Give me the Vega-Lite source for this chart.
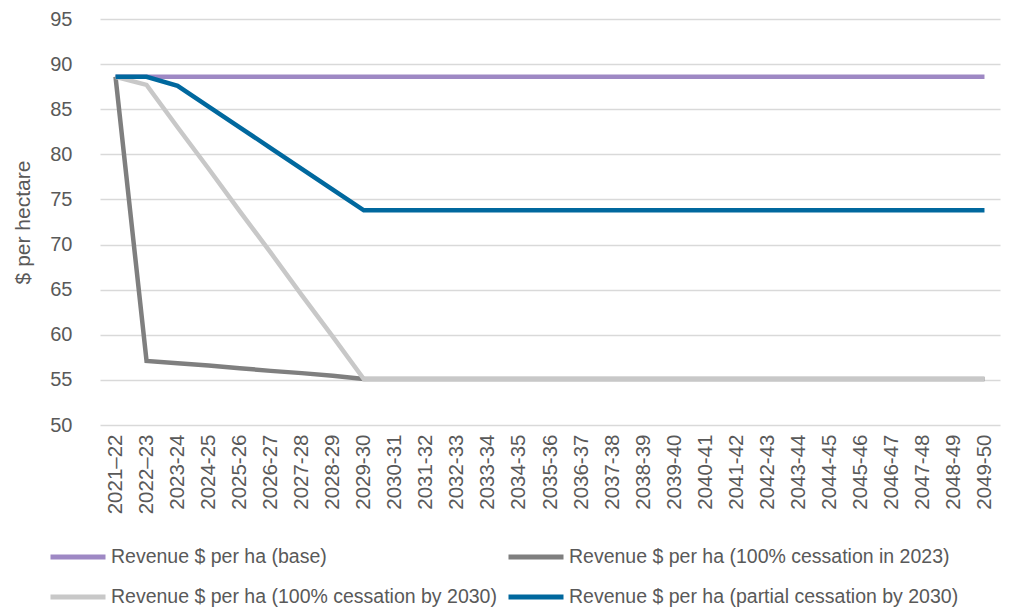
{
  "$schema": "https://vega.github.io/schema/vega-lite/v6.json",
  "width": 900,
  "height": 406,
  "autosize": {"type": "none"},
  "padding": {"left": 100, "top": 19, "right": 10, "bottom": 191},
  "background": "white",
  "config": {
    "view": {"stroke": null},
    "font": "Liberation Sans"
  },
  "data": {
    "values": [
      {"period": "2021–22", "series": "Revenue $ per ha (base)", "value": 88.6},
      {"period": "2022–23", "series": "Revenue $ per ha (base)", "value": 88.6},
      {"period": "2023-24", "series": "Revenue $ per ha (base)", "value": 88.6},
      {"period": "2024-25", "series": "Revenue $ per ha (base)", "value": 88.6},
      {"period": "2025-26", "series": "Revenue $ per ha (base)", "value": 88.6},
      {"period": "2026-27", "series": "Revenue $ per ha (base)", "value": 88.6},
      {"period": "2027-28", "series": "Revenue $ per ha (base)", "value": 88.6},
      {"period": "2028-29", "series": "Revenue $ per ha (base)", "value": 88.6},
      {"period": "2029-30", "series": "Revenue $ per ha (base)", "value": 88.6},
      {"period": "2030-31", "series": "Revenue $ per ha (base)", "value": 88.6},
      {"period": "2031-32", "series": "Revenue $ per ha (base)", "value": 88.6},
      {"period": "2032-33", "series": "Revenue $ per ha (base)", "value": 88.6},
      {"period": "2033-34", "series": "Revenue $ per ha (base)", "value": 88.6},
      {"period": "2034-35", "series": "Revenue $ per ha (base)", "value": 88.6},
      {"period": "2035-36", "series": "Revenue $ per ha (base)", "value": 88.6},
      {"period": "2036-37", "series": "Revenue $ per ha (base)", "value": 88.6},
      {"period": "2037-38", "series": "Revenue $ per ha (base)", "value": 88.6},
      {"period": "2038-39", "series": "Revenue $ per ha (base)", "value": 88.6},
      {"period": "2039-40", "series": "Revenue $ per ha (base)", "value": 88.6},
      {"period": "2040-41", "series": "Revenue $ per ha (base)", "value": 88.6},
      {"period": "2041-42", "series": "Revenue $ per ha (base)", "value": 88.6},
      {"period": "2042-43", "series": "Revenue $ per ha (base)", "value": 88.6},
      {"period": "2043-44", "series": "Revenue $ per ha (base)", "value": 88.6},
      {"period": "2044-45", "series": "Revenue $ per ha (base)", "value": 88.6},
      {"period": "2045-46", "series": "Revenue $ per ha (base)", "value": 88.6},
      {"period": "2046-47", "series": "Revenue $ per ha (base)", "value": 88.6},
      {"period": "2047-48", "series": "Revenue $ per ha (base)", "value": 88.6},
      {"period": "2048-49", "series": "Revenue $ per ha (base)", "value": 88.6},
      {"period": "2049-50", "series": "Revenue $ per ha (base)", "value": 88.6},

      {"period": "2021–22", "series": "Revenue $ per ha (100% cessation in 2023)", "value": 88.6},
      {"period": "2022–23", "series": "Revenue $ per ha (100% cessation in 2023)", "value": 57.1},
      {"period": "2023-24", "series": "Revenue $ per ha (100% cessation in 2023)", "value": 56.85},
      {"period": "2024-25", "series": "Revenue $ per ha (100% cessation in 2023)", "value": 56.6},
      {"period": "2025-26", "series": "Revenue $ per ha (100% cessation in 2023)", "value": 56.3},
      {"period": "2026-27", "series": "Revenue $ per ha (100% cessation in 2023)", "value": 56.0},
      {"period": "2027-28", "series": "Revenue $ per ha (100% cessation in 2023)", "value": 55.75},
      {"period": "2028-29", "series": "Revenue $ per ha (100% cessation in 2023)", "value": 55.45},
      {"period": "2029-30", "series": "Revenue $ per ha (100% cessation in 2023)", "value": 55.1},
      {"period": "2030-31", "series": "Revenue $ per ha (100% cessation in 2023)", "value": 55.1},
      {"period": "2031-32", "series": "Revenue $ per ha (100% cessation in 2023)", "value": 55.1},
      {"period": "2032-33", "series": "Revenue $ per ha (100% cessation in 2023)", "value": 55.1},
      {"period": "2033-34", "series": "Revenue $ per ha (100% cessation in 2023)", "value": 55.1},
      {"period": "2034-35", "series": "Revenue $ per ha (100% cessation in 2023)", "value": 55.1},
      {"period": "2035-36", "series": "Revenue $ per ha (100% cessation in 2023)", "value": 55.1},
      {"period": "2036-37", "series": "Revenue $ per ha (100% cessation in 2023)", "value": 55.1},
      {"period": "2037-38", "series": "Revenue $ per ha (100% cessation in 2023)", "value": 55.1},
      {"period": "2038-39", "series": "Revenue $ per ha (100% cessation in 2023)", "value": 55.1},
      {"period": "2039-40", "series": "Revenue $ per ha (100% cessation in 2023)", "value": 55.1},
      {"period": "2040-41", "series": "Revenue $ per ha (100% cessation in 2023)", "value": 55.1},
      {"period": "2041-42", "series": "Revenue $ per ha (100% cessation in 2023)", "value": 55.1},
      {"period": "2042-43", "series": "Revenue $ per ha (100% cessation in 2023)", "value": 55.1},
      {"period": "2043-44", "series": "Revenue $ per ha (100% cessation in 2023)", "value": 55.1},
      {"period": "2044-45", "series": "Revenue $ per ha (100% cessation in 2023)", "value": 55.1},
      {"period": "2045-46", "series": "Revenue $ per ha (100% cessation in 2023)", "value": 55.1},
      {"period": "2046-47", "series": "Revenue $ per ha (100% cessation in 2023)", "value": 55.1},
      {"period": "2047-48", "series": "Revenue $ per ha (100% cessation in 2023)", "value": 55.1},
      {"period": "2048-49", "series": "Revenue $ per ha (100% cessation in 2023)", "value": 55.1},
      {"period": "2049-50", "series": "Revenue $ per ha (100% cessation in 2023)", "value": 55.1},

      {"period": "2021–22", "series": "Revenue $ per ha (100% cessation by 2030)", "value": 88.6},
      {"period": "2022–23", "series": "Revenue $ per ha (100% cessation by 2030)", "value": 87.7},
      {"period": "2023-24", "series": "Revenue $ per ha (100% cessation by 2030)", "value": 83.0},
      {"period": "2024-25", "series": "Revenue $ per ha (100% cessation by 2030)", "value": 78.4},
      {"period": "2025-26", "series": "Revenue $ per ha (100% cessation by 2030)", "value": 73.7},
      {"period": "2026-27", "series": "Revenue $ per ha (100% cessation by 2030)", "value": 69.1},
      {"period": "2027-28", "series": "Revenue $ per ha (100% cessation by 2030)", "value": 64.4},
      {"period": "2028-29", "series": "Revenue $ per ha (100% cessation by 2030)", "value": 59.8},
      {"period": "2029-30", "series": "Revenue $ per ha (100% cessation by 2030)", "value": 55.1},
      {"period": "2030-31", "series": "Revenue $ per ha (100% cessation by 2030)", "value": 55.1},
      {"period": "2031-32", "series": "Revenue $ per ha (100% cessation by 2030)", "value": 55.1},
      {"period": "2032-33", "series": "Revenue $ per ha (100% cessation by 2030)", "value": 55.1},
      {"period": "2033-34", "series": "Revenue $ per ha (100% cessation by 2030)", "value": 55.1},
      {"period": "2034-35", "series": "Revenue $ per ha (100% cessation by 2030)", "value": 55.1},
      {"period": "2035-36", "series": "Revenue $ per ha (100% cessation by 2030)", "value": 55.1},
      {"period": "2036-37", "series": "Revenue $ per ha (100% cessation by 2030)", "value": 55.1},
      {"period": "2037-38", "series": "Revenue $ per ha (100% cessation by 2030)", "value": 55.1},
      {"period": "2038-39", "series": "Revenue $ per ha (100% cessation by 2030)", "value": 55.1},
      {"period": "2039-40", "series": "Revenue $ per ha (100% cessation by 2030)", "value": 55.1},
      {"period": "2040-41", "series": "Revenue $ per ha (100% cessation by 2030)", "value": 55.1},
      {"period": "2041-42", "series": "Revenue $ per ha (100% cessation by 2030)", "value": 55.1},
      {"period": "2042-43", "series": "Revenue $ per ha (100% cessation by 2030)", "value": 55.1},
      {"period": "2043-44", "series": "Revenue $ per ha (100% cessation by 2030)", "value": 55.1},
      {"period": "2044-45", "series": "Revenue $ per ha (100% cessation by 2030)", "value": 55.1},
      {"period": "2045-46", "series": "Revenue $ per ha (100% cessation by 2030)", "value": 55.1},
      {"period": "2046-47", "series": "Revenue $ per ha (100% cessation by 2030)", "value": 55.1},
      {"period": "2047-48", "series": "Revenue $ per ha (100% cessation by 2030)", "value": 55.1},
      {"period": "2048-49", "series": "Revenue $ per ha (100% cessation by 2030)", "value": 55.1},
      {"period": "2049-50", "series": "Revenue $ per ha (100% cessation by 2030)", "value": 55.1},

      {"period": "2021–22", "series": "Revenue $ per ha (partial cessation by 2030)", "value": 88.6},
      {"period": "2022–23", "series": "Revenue $ per ha (partial cessation by 2030)", "value": 88.6},
      {"period": "2023-24", "series": "Revenue $ per ha (partial cessation by 2030)", "value": 87.6},
      {"period": "2024-25", "series": "Revenue $ per ha (partial cessation by 2030)", "value": 85.3},
      {"period": "2025-26", "series": "Revenue $ per ha (partial cessation by 2030)", "value": 83.0},
      {"period": "2026-27", "series": "Revenue $ per ha (partial cessation by 2030)", "value": 80.7},
      {"period": "2027-28", "series": "Revenue $ per ha (partial cessation by 2030)", "value": 78.4},
      {"period": "2028-29", "series": "Revenue $ per ha (partial cessation by 2030)", "value": 76.1},
      {"period": "2029-30", "series": "Revenue $ per ha (partial cessation by 2030)", "value": 73.8},
      {"period": "2030-31", "series": "Revenue $ per ha (partial cessation by 2030)", "value": 73.8},
      {"period": "2031-32", "series": "Revenue $ per ha (partial cessation by 2030)", "value": 73.8},
      {"period": "2032-33", "series": "Revenue $ per ha (partial cessation by 2030)", "value": 73.8},
      {"period": "2033-34", "series": "Revenue $ per ha (partial cessation by 2030)", "value": 73.8},
      {"period": "2034-35", "series": "Revenue $ per ha (partial cessation by 2030)", "value": 73.8},
      {"period": "2035-36", "series": "Revenue $ per ha (partial cessation by 2030)", "value": 73.8},
      {"period": "2036-37", "series": "Revenue $ per ha (partial cessation by 2030)", "value": 73.8},
      {"period": "2037-38", "series": "Revenue $ per ha (partial cessation by 2030)", "value": 73.8},
      {"period": "2038-39", "series": "Revenue $ per ha (partial cessation by 2030)", "value": 73.8},
      {"period": "2039-40", "series": "Revenue $ per ha (partial cessation by 2030)", "value": 73.8},
      {"period": "2040-41", "series": "Revenue $ per ha (partial cessation by 2030)", "value": 73.8},
      {"period": "2041-42", "series": "Revenue $ per ha (partial cessation by 2030)", "value": 73.8},
      {"period": "2042-43", "series": "Revenue $ per ha (partial cessation by 2030)", "value": 73.8},
      {"period": "2043-44", "series": "Revenue $ per ha (partial cessation by 2030)", "value": 73.8},
      {"period": "2044-45", "series": "Revenue $ per ha (partial cessation by 2030)", "value": 73.8},
      {"period": "2045-46", "series": "Revenue $ per ha (partial cessation by 2030)", "value": 73.8},
      {"period": "2046-47", "series": "Revenue $ per ha (partial cessation by 2030)", "value": 73.8},
      {"period": "2047-48", "series": "Revenue $ per ha (partial cessation by 2030)", "value": 73.8},
      {"period": "2048-49", "series": "Revenue $ per ha (partial cessation by 2030)", "value": 73.8},
      {"period": "2049-50", "series": "Revenue $ per ha (partial cessation by 2030)", "value": 73.8}
    ]
  },
  "mark": {"type": "line", "strokeWidth": 4.5, "strokeJoin": "miter", "strokeCap": "butt"},
  "encoding": {
    "x": {
      "field": "period",
      "type": "ordinal",
      "sort": null,
      "scale": {"type": "point", "padding": 0.5},
      "axis": {
        "title": null,
        "labelAngle": -90,
        "labelAlign": "right",
        "labelBaseline": "middle",
        "labelFontSize": 20.5,
        "labelColor": "#595959",
        "labelPadding": 9,
        "ticks": false,
        "domain": false,
        "grid": false
      }
    },
    "y": {
      "field": "value",
      "type": "quantitative",
      "scale": {"domain": [50, 95], "nice": false, "zero": false},
      "axis": {
        "title": "$ per hectare",
        "titleFontSize": 21,
        "titleFontWeight": "normal",
        "titleColor": "#595959",
        "titlePadding": 16,
        "values": [50, 55, 60, 65, 70, 75, 80, 85, 90, 95],
        "labelFontSize": 20,
        "labelColor": "#595959",
        "labelPadding": 28,
        "ticks": false,
        "domain": false,
        "grid": true,
        "gridColor": "#D9D9D9",
        "gridWidth": 1.5
      }
    },
    "color": {
      "field": "series",
      "type": "nominal",
      "sort": null,
      "scale": {
        "domain": [
          "Revenue $ per ha (base)",
          "Revenue $ per ha (100% cessation in 2023)",
          "Revenue $ per ha (100% cessation by 2030)",
          "Revenue $ per ha (partial cessation by 2030)"
        ],
        "range": ["#9E88C4", "#7F7F7F", "#C8C8C8", "#00689E"]
      },
      "legend": {
        "title": null,
        "orient": "none",
        "legendX": -52,
        "legendY": 508,
        "direction": "horizontal",
        "columns": 2,
        "gridAlign": "each",
        "columnPadding": 1,
        "rowPadding": -7,
        "symbolType": "stroke",
        "symbolSize": 3025,
        "symbolStrokeWidth": 5,
        "labelFontSize": 19.5,
        "labelColor": "#595959",
        "labelOffset": 3,
        "labelLimit": 600
      }
    }
  }
}
